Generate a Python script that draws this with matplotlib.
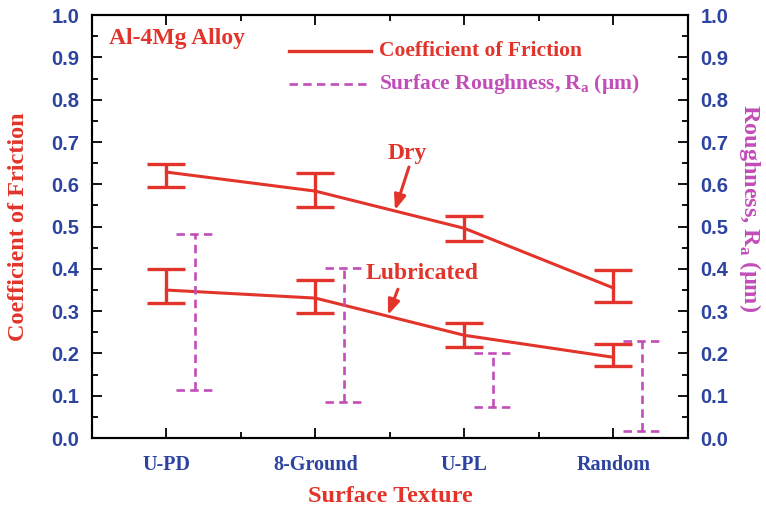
import matplotlib
matplotlib.use("Agg")
import matplotlib.pyplot as plt
from matplotlib.ticker import MultipleLocator, FixedLocator
import numpy as np

categories = ["U-PD", "8-Ground", "U-PL", "Random"]

dry_mean = [0.629, 0.584, 0.496, 0.355]
dry_low = [0.593, 0.546, 0.466, 0.321]
dry_high = [0.648, 0.626, 0.525, 0.397]

lub_mean = [0.350, 0.331, 0.243, 0.191]
lub_low = [0.319, 0.295, 0.215, 0.170]
lub_high = [0.400, 0.374, 0.272, 0.222]

rough_low = [0.113, 0.085, 0.073, 0.017]
rough_high = [0.482, 0.402, 0.201, 0.229]

yticks = [0.0, 0.1, 0.2, 0.3, 0.4, 0.5, 0.6, 0.7, 0.8, 0.9, 1.0]

RED = "#E2342A"
MAG = "#C24DB8"
BLUE = "#2D43A0"
SERIF = "Liberation Serif"
SANS = "Liberation Sans"

fig = plt.figure(figsize=(7.66, 5.07), dpi=100)
ax = fig.add_axes([0.120, 0.136, 0.778, 0.834])
ax2 = ax.twinx()

x = np.arange(1, len(categories) + 1)

def errs(mean, low, high):
    m = np.array(mean); return np.vstack([m - np.array(low), np.array(high) - m])

for mean, low, high in [(dry_mean, dry_low, dry_high), (lub_mean, lub_low, lub_high)]:
    ax.errorbar(x, mean, yerr=errs(mean, low, high), color=RED, lw=2.2,
                elinewidth=2.4, capsize=13.5, capthick=2.4)

# roughness range bars (dashed)
off = 0.195
capw = 0.128
dash = (0, (3.2, 2.0))
xr = x + off
ax2.vlines(xr, rough_low, rough_high, colors=MAG, linestyles=dash, lw=1.9)
ax2.hlines(rough_low, xr - capw, xr + capw, colors=MAG, linestyles=dash, lw=1.9)
ax2.hlines(rough_high, xr - capw, xr + capw, colors=MAG, linestyles=dash, lw=1.9)

for a in (ax, ax2):
    a.set_ylim(0, 1.0)
    a.set_xlim(0.5, 4.5)
    a.yaxis.set_major_locator(FixedLocator(yticks))
    a.yaxis.set_minor_locator(MultipleLocator(0.05))
    for s in a.spines.values():
        s.set_linewidth(1.5)

ax.set_xticks(x)
ax.set_xticklabels(categories, fontfamily=SERIF, fontweight="bold", fontsize=14.5, color=BLUE)
ax.xaxis.set_minor_locator(FixedLocator([1.5, 2.5, 3.5]))
ax.tick_params(axis="x", which="both", direction="in", top=True, width=1.3)
ax.tick_params(axis="x", which="major", length=7, pad=12)
ax.tick_params(axis="x", which="minor", length=4)
ax.tick_params(axis="y", which="both", direction="in", right=False, width=1.3)
ax.tick_params(axis="y", which="major", length=7, pad=9)
ax.tick_params(axis="y", which="minor", length=4)
ax2.tick_params(axis="y", which="both", direction="in", width=1.3)
ax2.tick_params(axis="y", which="major", length=7, pad=9)
ax2.tick_params(axis="y", which="minor", length=4)

for a in (ax, ax2):
    a.set_yticklabels([f"{t:.1f}" for t in yticks], fontfamily=SANS, fontweight="bold",
                      fontsize=14.5, color=BLUE)

ax.set_xlabel("Surface Texture", fontfamily=SERIF, fontweight="bold", fontsize=17.5,
              color=RED, labelpad=8)
ax.set_ylabel("Coefficient of Friction", fontfamily=SERIF, fontweight="bold", fontsize=17.5,
              color=RED, labelpad=16)
ax2.set_ylabel("Roughness, R$_\\mathregular{a}$ (\u03bcm)", fontfamily=SERIF, fontweight="bold",
               fontsize=17.5, color=MAG, rotation=270, labelpad=22)
ax2.yaxis.set_label_coords(1.126, 0.545)

ax.text(0.615, 0.945, "Al-4Mg Alloy", fontfamily=SERIF, fontweight="bold", fontsize=17,
        color=RED, va="center", ha="left")

# legend drawn manually
ax.plot([1.82, 2.37], [0.915, 0.915], color=RED, lw=2.4)
ax.text(2.43, 0.915, "Coefficient of Friction", fontfamily=SERIF, fontweight="bold",
        fontsize=15.5, color=RED, va="center", ha="left")
ax.plot([1.82, 2.37], [0.837, 0.837], color=MAG, lw=1.9, ls=dash)
ax.text(2.43, 0.837, "Surface Roughness, R$_\\mathregular{a}$ (\u03bcm)", fontfamily=SERIF,
        fontweight="bold", fontsize=15.5, color=MAG, va="center", ha="left")

# annotations
arrow = dict(arrowstyle="-|>,head_length=0.9,head_width=0.35", color=RED, lw=2.2,
             shrinkA=0, shrinkB=0)
ax.text(2.614, 0.674, "Dry", fontfamily=SERIF, fontweight="bold", fontsize=17,
        color=RED, ha="center", va="center")
ax.annotate("", xy=(2.534, 0.539), xytext=(2.628, 0.641), arrowprops=arrow)
ax.text(2.715, 0.390, "Lubricated", fontfamily=SERIF, fontweight="bold", fontsize=17,
        color=RED, ha="center", va="center")
ax.annotate("", xy=(2.487, 0.291), xytext=(2.554, 0.352), arrowprops=arrow)

fig.savefig("out.png", dpi=100)
